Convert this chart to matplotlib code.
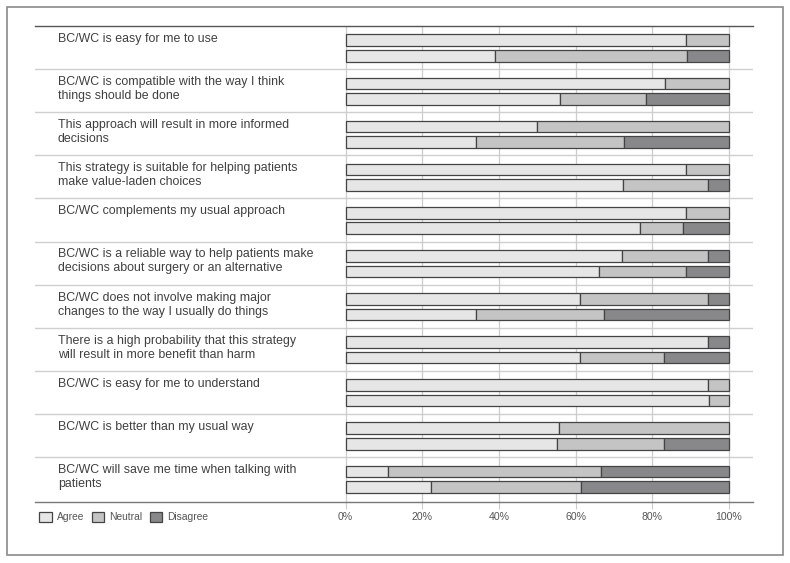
"""Stacked horizontal bars of agreement with BC/WC statements"""

import matplotlib.pyplot as plt
from matplotlib.patches import Patch, Rectangle

plt.rcParams["font.family"] = ["Liberation Sans", "DejaVu Sans"]

statements = [
    "BC/WC is easy for me to use",
    "BC/WC is compatible with the way I think\nthings should be done",
    "This approach will result in more informed\ndecisions",
    "This strategy is suitable for helping patients\nmake value-laden choices",
    "BC/WC complements my usual approach",
    "BC/WC is a reliable way to help patients make\ndecisions about surgery or an alternative",
    "BC/WC does not involve making major\nchanges to the way I usually do things",
    "There is a high probability that this strategy\nwill result in more benefit than harm",
    "BC/WC is easy for me to understand",
    "BC/WC is better than my usual way",
    "BC/WC will save me time when talking with\npatients",
]

# upper bar of each pair
agree_top = [88.9, 83.3, 50.0, 88.9, 88.9, 72.2, 61.1, 94.4, 94.4, 55.6, 11.1]
neutral_top = [11.1, 16.7, 50.0, 11.1, 11.1, 22.2, 33.3, 0.0, 5.6, 44.4, 55.6]
disagree_top = [0.0, 0.0, 0.0, 0.0, 0.0, 5.6, 5.6, 5.6, 0.0, 0.0, 33.3]

# lower bar of each pair
agree_bot = [39.1, 56.0, 34.0, 72.3, 76.9, 66.0, 34.1, 61.2, 94.8, 55.1, 22.4]
neutral_bot = [50.0, 22.3, 38.5, 22.1, 11.2, 22.7, 33.2, 21.9, 5.2, 28.0, 38.9]
disagree_bot = [10.9, 21.7, 27.5, 5.6, 11.9, 11.3, 32.7, 16.9, 0.0, 16.9, 38.7]

categories = ["Agree", "Neutral", "Disagree"]
colors = ["#e6e6e6", "#c4c4c4", "#88888b"]
edge = "#444444"
ticks = [0, 20, 40, 60, 80, 100]
tick_labels = ["0%", "20%", "40%", "60%", "80%", "100%"]

fig = plt.figure(figsize=(7.9, 5.63), dpi=100)
ax = fig.add_axes([35 / 790, 1 - 502 / 563, 718 / 790, 476 / 563])

# outer frame
fig.patches.append(Rectangle((7 / 790, 1 - 555 / 563), 776 / 790, 548 / 563,
                             transform=fig.transFigure, fill=False,
                             edgecolor="#8a8a8a", linewidth=1.2))

n = len(statements)
height = 0.27
for i in range(n):
    for offset, segs in [(0.33, (agree_top[i], neutral_top[i], disagree_top[i])),
                         (0.69, (agree_bot[i], neutral_bot[i], disagree_bot[i]))]:
        left = 0
        for val, col in zip(segs, colors):
            if val > 0:
                ax.barh(i + offset, val, left=left, height=height, color=col,
                        edgecolor=edge, linewidth=0.9, zorder=3)
            left += val
    ax.text(0.032, i + 0.16, statements[i], transform=ax.get_yaxis_transform(),
            ha="left", va="top", fontsize=8.9, color="#404040", linespacing=1.22)
    if i > 0:
        ax.axhline(i, color="#cfcfcf", linewidth=1.0, zorder=1)

for t in ticks:
    ax.axvline(t, color="#cccccc", linewidth=0.9, zorder=1)

ax.set_xlim(-(345.5 - 35) / 3.835, 100 + (753 - 729) / 3.835)
ax.set_ylim(n + 0.04, 0)
ax.set_xticks(ticks)
ax.set_xticklabels(tick_labels, fontsize=7.6, color="#555555")
ax.tick_params(axis="x", length=5, color="#cccccc", pad=2.5)
ax.set_yticks([])

for side in ["left", "right"]:
    ax.spines[side].set_visible(False)
ax.spines["top"].set_color("#555555")
ax.spines["bottom"].set_color("#777777")
ax.spines["top"].set_linewidth(1.0)
ax.spines["bottom"].set_linewidth(1.0)

handles = [Patch(facecolor=c, edgecolor=edge, linewidth=0.9) for c in colors]
fig.legend(handles, categories, loc="center left",
           bbox_to_anchor=(30 / 790, 1 - 517 / 563), ncol=3, frameon=False,
           fontsize=7.4, labelcolor="#555555", handlelength=1.2,
           handleheight=1.2, handletextpad=0.5, columnspacing=0.75)

plt.savefig("out.png", dpi=100)
